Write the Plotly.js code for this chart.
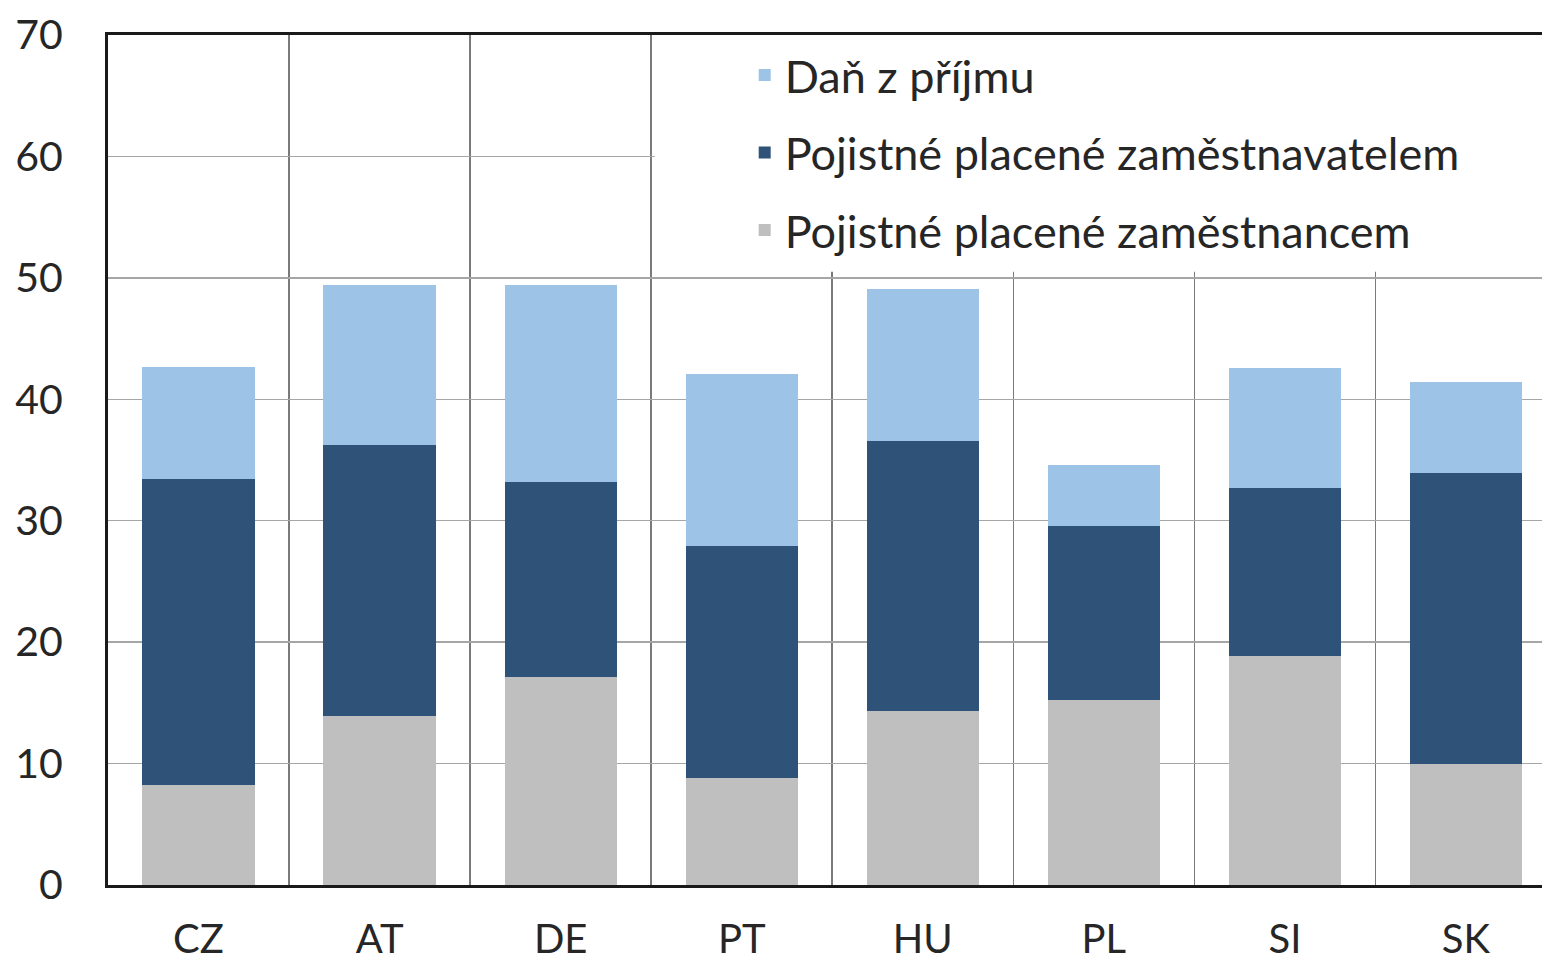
<!DOCTYPE html>
<html>
<head>
<meta charset="utf-8">
<script src="https://cdn.plot.ly/plotly-3.0.1.min.js"></script>
<style>html,body{margin:0;padding:0;background:#fff;}#chart{width:1542px;height:967px;}</style>
</head>
<body>
<div id="chart"></div>
<script>
const countries = ["CZ", "AT", "DE", "PT", "HU", "PL", "SI", "SK"];
const employeeContrib = [8.2, 13.9, 17.1, 8.8, 14.3, 15.2, 18.9, 10.0];
const employerContrib = [25.2, 22.3, 16.1, 19.1, 22.3, 14.4, 13.8, 23.9];
const incomeTax = [9.3, 13.2, 16.2, 14.2, 12.5, 5.0, 9.9, 7.5];
const seriesNames = ["Pojistné placené zaměstnancem", "Pojistné placené zaměstnavatelem", "Daň z příjmu"];
const yTicks = [0, 10, 20, 30, 40, 50, 60, 70];

const colors = ["#BFBFBF", "#2F5279", "#9DC3E6"];
const FONT = "Lato, 'Open Sans', sans-serif";

const traces = [employeeContrib, employerContrib, incomeTax].map((vals, i) => ({
  type: "bar",
  x: countries,
  y: vals,
  name: seriesNames[i],
  legendgroup: "g" + i,
  legendrank: 3 - i,
  marker: {color: colors[i], line: {width: 0}},
  width: 0.62,
  hoverinfo: "x+y+name"
}));

const layout = {
  width: 1542,
  height: 967,
  margin: {l: 108, r: 0, t: 35, b: 82},
  paper_bgcolor: "#fff",
  plot_bgcolor: "#fff",
  barmode: "stack",
  showlegend: true,
  font: {family: FONT, size: 40, color: "#262626"},
  xaxis: {
    type: "category",
    range: [-0.5, 7.42],
    tickson: "boundaries",
    showgrid: true,
    gridcolor: "#7a7a7a",
    gridwidth: 1.5,
    showline: true,
    linecolor: "#1a1a1a",
    linewidth: 3,
    mirror: true,
    ticks: "",
    ticklabelstandoff: 17,
    tickfont: {family: FONT, size: 40, color: "#262626"},
    fixedrange: true
  },
  yaxis: {
    range: [0, 70],
    tickvals: yTicks,
    showgrid: true,
    gridcolor: "#a6a6a6",
    gridwidth: 1.5,
    zeroline: false,
    showline: true,
    linecolor: "#1a1a1a",
    linewidth: 3,
    ticks: "outside",
    ticklen: 34,
    tickcolor: "rgba(0,0,0,0)",
    tickfont: {family: FONT, size: 41, color: "#262626"},
    fixedrange: true
  },
  legend: {
    x: 0.444,
    xanchor: "left",
    y: 0.995,
    yanchor: "top",
    bgcolor: "rgba(255,255,255,0)",
    borderwidth: 0,
    traceorder: "grouped",
    tracegroupgap: 16,
    font: {family: FONT, size: 45, color: "#262626"}
  },
  shapes: [{
    type: "rect",
    layer: "between",
    xref: "x", yref: "y",
    x0: 2.52, x1: 8, y0: 50.5, y1: 70,
    fillcolor: "#fff",
    line: {width: 0}
  }]
};

Plotly.newPlot("chart", traces, layout, {displayModeBar: false, staticPlot: true});
</script>
</body>
</html>
